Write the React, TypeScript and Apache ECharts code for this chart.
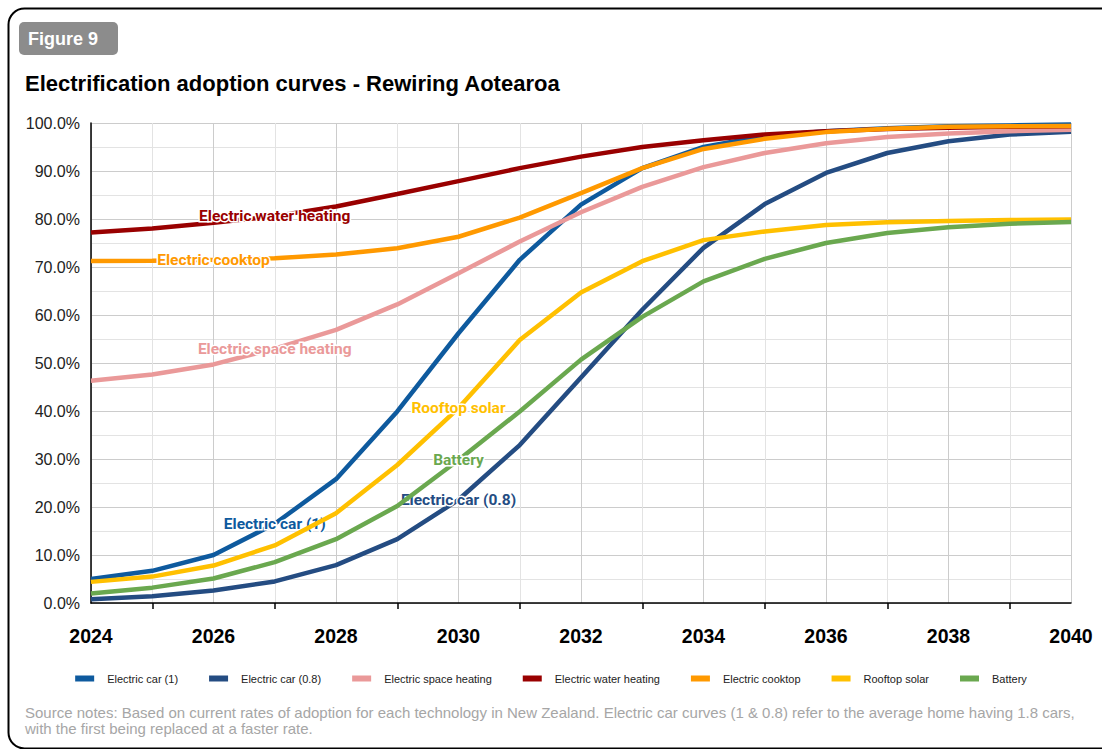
import React, { useEffect, useRef } from "react";
import * as echarts from "echarts";

const years = ["2024","2025","2026","2027","2028","2029","2030","2031","2032","2033","2034","2035","2036","2037","2038","2039","2040"];

const seriesNames = ["Electric car (1)","Electric car (0.8)","Electric space heating","Electric water heating","Electric cooktop","Rooftop solar","Battery"];
const seriesColors = ["#0e5a9e","#244c82","#ea9999","#990000","#ff9900","#ffc000","#6aa84f"];

const electricCar1 = [5.0, 6.7, 10.0, 16.5, 25.8, 39.9, 56.2, 71.5, 83.0, 90.6, 95.0, 97.3, 98.3, 98.9, 99.3, 99.5, 99.7];
const electricCar08 = [0.8, 1.4, 2.6, 4.5, 7.9, 13.3, 21.5, 32.9, 47.0, 61.1, 74.0, 83.1, 89.6, 93.75, 96.2, 97.6, 98.2];
const spaceHeating = [46.3, 47.6, 49.7, 53.0, 56.9, 62.2, 68.7, 75.3, 81.4, 86.7, 90.8, 93.75, 95.8, 97.1, 97.8, 98.3, 98.6];
const waterHeating = [77.2, 78.0, 79.2, 80.6, 82.6, 85.2, 87.9, 90.6, 93.0, 95.0, 96.4, 97.6, 98.3, 98.75, 99.0, 99.2, 99.3];
const cooktop = [71.25, 71.3, 71.5, 71.8, 72.6, 73.9, 76.3, 80.3, 85.4, 90.6, 94.6, 96.7, 98.1, 98.8, 99.2, 99.3, 99.4];
const rooftopSolar = [4.4, 5.5, 7.8, 12.0, 18.7, 28.75, 40.6, 54.8, 64.7, 71.2, 75.6, 77.4, 78.75, 79.3, 79.6, 79.8, 79.9];
const battery = [2.0, 3.2, 5.1, 8.5, 13.3, 20.2, 29.8, 39.9, 50.7, 59.6, 67.0, 71.7, 75.0, 77.1, 78.3, 79.0, 79.4];

const seriesValues = [electricCar1, electricCar08, spaceHeating, waterHeating, cooktop, rooftopSolar, battery];
// index of the year at which each inline label sits
const labelIndex = [3, 6, 3, 3, 2, 6, 6];

const title = "Electrification adoption curves - Rewiring Aotearoa";
const figureLabel = "Figure 9";
const sourceLine1 = "Source notes: Based on current rates of adoption for each technology in New Zealand. Electric car curves (1 & 0.8) refer to the average home having 1.8 cars,";
const sourceLine2 = "with the first being replaced at a faster rate.";

export default function App() {
  const ref = useRef<HTMLDivElement>(null);
  useEffect(() => {
    if (!ref.current) return;
    const chart = echarts.init(ref.current, null, { renderer: "svg" });
    const series = seriesNames.map((name, si) => ({
      name,
      type: "line",
      showSymbol: true,
      symbol: "circle",
      symbolSize: 0,
      lineStyle: { width: 4.5, color: seriesColors[si] },
      itemStyle: { color: seriesColors[si] },
      z: 2 + si,
      data: seriesValues[si].map((v, i) =>
        i === labelIndex[si]
          ? {
              value: v,
              label: {
                show: true,
                position: "inside",
                formatter: name,
                fontFamily: "Roboto",
                fontWeight: "bold",
                fontSize: 15.5,
                color: seriesColors[si],
                textBorderColor: "#ffffff",
                textBorderWidth: 3,
              },
            }
          : v
      ),
    }));

    chart.setOption({
      animation: false,
      backgroundColor: "#ffffff",
      grid: { left: 91, right: 31, top: 123, bottom: 146, containLabel: false },
      legend: {
        data: seriesNames,
        left: "center",
        top: 668,
        icon: "rect",
        itemWidth: 19,
        itemHeight: 6,
        itemGap: 31,
        textStyle: { fontFamily: "Liberation Sans, Arial", fontSize: 11, color: "#222", padding: [0, 0, 0, 8] },
      },
      xAxis: {
        type: "category",
        data: years,
        boundaryGap: false,
        axisLine: { show: true, lineStyle: { color: "#000", width: 1.5 } },
        axisTick: { show: true, interval: (idx: number) => idx % 2 === 1, length: 6, lineStyle: { color: "#000", width: 1.5 } },
        axisLabel: {
          interval: 1,
          fontFamily: "Liberation Sans, Arial",
          fontWeight: "bold",
          fontSize: 19.5,
          color: "#000",
          margin: 23,
        },
        splitLine: { show: true, interval: 0, lineStyle: { color: ["#cccccc", "#e3e3e3"], width: 1 } },
      },
      yAxis: {
        type: "value",
        min: 0,
        max: 100,
        interval: 10,
        axisLine: { show: true, lineStyle: { color: "#000", width: 1.5 } },
        axisTick: { show: false },
        axisLabel: {
          formatter: (v: number) => v.toFixed(1) + "%",
          fontFamily: "Liberation Sans, Arial",
          fontSize: 16,
          color: "#222",
          margin: 11,
        },
        splitLine: { show: true, lineStyle: { color: "#cccccc", width: 1 } },
        minorTick: { show: false, splitNumber: 2 },
        minorSplitLine: { show: true, lineStyle: { color: "#e3e3e3", width: 1 } },
      },
      series,
      graphic: [
        {
          type: "rect",
          left: 6,
          top: 6,
          shape: { x: 0, y: 0, width: 1130, height: 740, r: 16 },
          style: { fill: "none", stroke: "#000", lineWidth: 2 },
          silent: true,
          z: 100,
        },
        {
          type: "rect",
          shape: { x: 19, y: 22, width: 99, height: 33, r: 5 },
          style: { fill: "#8c8c8c" },
          z: 100,
        },
        {
          type: "text",
          x: 28,
          y: 39,
          style: {
            text: figureLabel,
            fill: "#ffffff",
            font: "bold 18px 'Liberation Sans', Arial",
            textVerticalAlign: "middle",
          },
          z: 101,
        },
        {
          type: "text",
          x: 25,
          y: 83,
          style: {
            text: title,
            fill: "#000",
            font: "bold 22px 'Liberation Sans', Arial",
            textVerticalAlign: "middle",
          },
          z: 101,
        },
        {
          type: "text",
          x: 25,
          y: 712,
          style: {
            text: sourceLine1,
            fill: "#a6a6a6",
            font: "15px 'Liberation Sans', Arial",
            textVerticalAlign: "middle",
          },
          z: 101,
        },
        {
          type: "text",
          x: 25,
          y: 728,
          style: {
            text: sourceLine2,
            fill: "#a6a6a6",
            font: "15px 'Liberation Sans', Arial",
            textVerticalAlign: "middle",
          },
          z: 101,
        },
      ],
    });
    return () => chart.dispose();
  }, []);

  return (
    <div style={{ position: "fixed", left: 0, top: 0, width: 1102, height: 749, background: "#fff" }}>
      <div ref={ref} style={{ width: 1102, height: 749 }} />
    </div>
  );
}
